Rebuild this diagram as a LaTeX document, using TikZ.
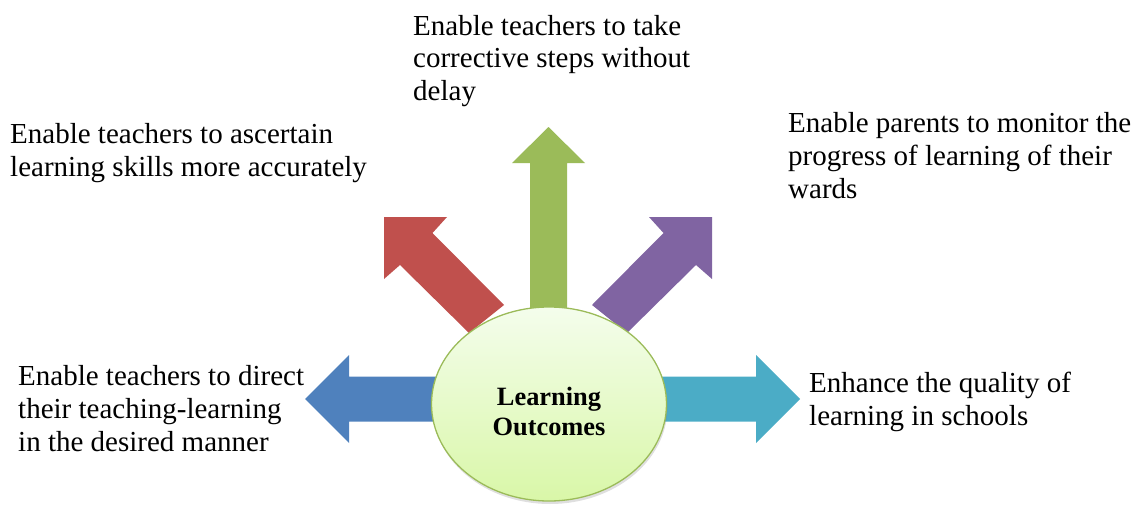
\documentclass[tikz,border=0pt]{standalone}
\usepackage{fontspec}
\setmainfont{Liberation Serif}
\usetikzlibrary{shapes.geometric,shadows}

\definecolor{arrred}{HTML}{C0504D}
\definecolor{arrgreen}{HTML}{9BBB59}
\definecolor{arrpurple}{HTML}{8064A2}
\definecolor{arrblue}{HTML}{4F81BD}
\definecolor{arrteal}{HTML}{4BACC6}
\definecolor{hubtop}{HTML}{F4FDEC}
\definecolor{hubbot}{HTML}{D9F7A8}

\begin{document}
\begin{tikzpicture}[x=1pt,y=-1pt,
% node style
lbl/.style={anchor=base west, align=left, inner sep=0pt, font=\fontsize{29}{33}\selectfont},
hub/.style={ellipse, draw=arrgreen, line width=1.3pt, top color=hubtop, bottom color=hubbot,
  minimum width=235pt, minimum height=194pt, inner sep=0pt, align=center,
  font=\fontsize{26.4}{30}\selectfont\bfseries,
  drop shadow={shadow xshift=1pt, shadow yshift=-3pt, opacity=0.25}}
]
\useasboundingbox (0,0) rectangle (1136,511);

% block arrows
\fill[arrred] (504,305) -- (432.5,233) -- (447,217) -- (384,217) -- (384,279) -- (400,265) -- (469,333) -- cycle;
\fill[arrpurple] (592,305) -- (663.5,233) -- (649,217) -- (712,217) -- (712,279) -- (696,265) -- (627,333) -- cycle;
\fill[arrgreen] (530,320) -- (530,163) -- (512,163) -- (548.5,127) -- (585,163) -- (567,163) -- (567,320) -- cycle;
\fill[arrblue] (445,376.5) -- (349,376.5) -- (349,355) -- (305,399) -- (349,443) -- (349,421.5) -- (445,421.5) -- cycle;
\fill[arrteal] (652,376.5) -- (756,376.5) -- (756,355) -- (800,399) -- (756,443) -- (756,421.5) -- (652,421.5) -- cycle;

% nodes
% hack: strut on first line pushes text down in the ellipse
\node[hub] (lo) at (549,404) {\rule{0pt}{34pt}Learning\\Outcomes};

% labels are placed at the baseline of their last line
\node[lbl] (t_asc) at (10,176) {Enable teachers to ascertain\\learning skills more accurately};
\node[lbl] (t_cor) at (413,101) {Enable teachers to take\\corrective steps without\\delay};
\node[lbl] (t_par) at (788,198) {Enable parents to monitor the\\progress of learning of their\\wards};
\node[lbl] (t_dir) at (18,451) {Enable teachers to direct\\their teaching-learning\\in the desired manner};
\node[lbl] (t_enh) at (809,425) {Enhance the quality of\\learning in schools};

\end{tikzpicture}
\end{document}
